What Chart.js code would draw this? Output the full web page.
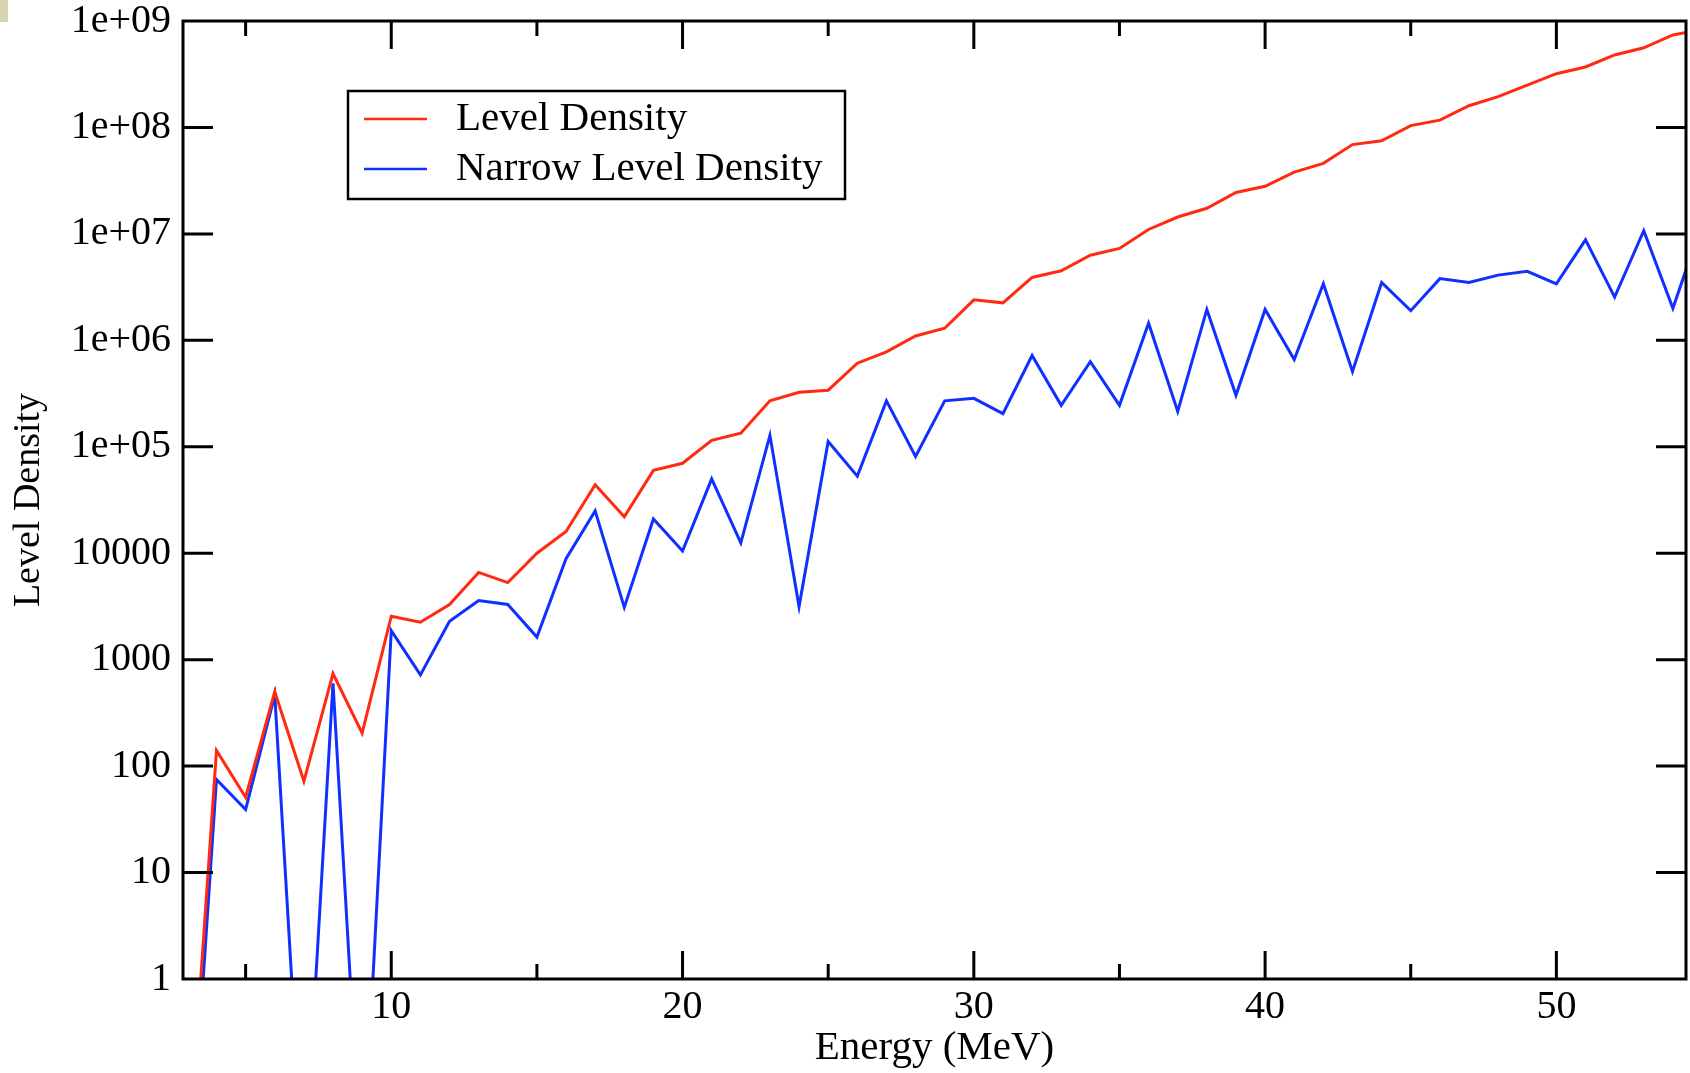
<!DOCTYPE html>
<html>
<head>
<meta charset="utf-8">
<script src="https://cdn.jsdelivr.net/npm/chart.js@4.4.0/dist/chart.umd.min.js"></script>
<style>
    html, body { margin: 0; padding: 0; background: #fff; }
    #wrap { position: relative; width: 1690px; height: 1073px; }
    #mark { position: absolute; left: 0; top: 0; width: 8px; height: 22px; background: #d8d4b0; }
</style>
</head>
<body>
<div id="wrap">
    <canvas id="LevelDensityChart" width="1690" height="1073"></canvas>
    <div id="mark"></div>
</div>
<script>
// energy grid (MeV)
var energies = [3, 4, 5, 6, 7, 8, 9, 10, 11, 12, 13, 14, 15, 16, 17, 18, 19, 20, 21, 22, 23, 24, 25, 26, 27, 28, 29,
    30, 31, 32, 33, 34, 35, 36, 37, 38, 39, 40, 41, 42, 43, 44, 45, 46, 47, 48, 49, 50, 51, 52, 53, 54, 55];

var levelDensity = [0.015, 140, 51, 500, 72, 740, 204, 2560, 2250, 3300, 6600, 5300, 10000, 16000, 44000, 22000, 60000,
    70000, 115000, 134000, 270000, 325000, 340000, 610000, 780000, 1.1e6, 1.3e6,
    2.4e6, 2.25e6, 3.9e6, 4.5e6, 6.3e6, 7.3e6, 1.1e7, 1.44e7, 1.74e7, 2.45e7, 2.8e7, 3.8e7, 4.6e7, 6.9e7, 7.5e7,
    1.04e8, 1.17e8, 1.6e8, 1.95e8, 2.5e8, 3.2e8, 3.7e8, 4.8e8, 5.6e8, 7.4e8, 8.3e8];

var narrowLevelDensity = [0.006, 75, 39, 465, 0.012, 600, 0.012, 1870, 720, 2300, 3600, 3300, 1630, 8900, 25000, 3100, 21000,
    10500, 50000, 12500, 128000, 3150, 112000, 53000, 270000, 81000, 270000,
    285000, 205000, 720000, 245000, 630000, 245000, 1.45e6, 215000, 1.95e6, 305000, 1.95e6, 660000, 3.4e6, 510000, 3.5e6,
    1.9e6, 3.8e6, 3.5e6, 4.1e6, 4.45e6, 3.4e6, 8.8e6, 2.55e6, 1.07e7, 2.0e6, 1.26e7];

var seriesNames = ['Level Density', 'Narrow Level Density'];
var seriesColors = ['#ff2a10', '#1030ff'];

var xMajorTicks = [10, 20, 30, 40, 50];
var xMinorTicks = [5, 15, 25, 35, 45];
var yTicks = [1, 10, 100, 1000, 10000, 1e5, 1e6, 1e7, 1e8, 1e9];
var yTickLabels = ['1', '10', '100', '1000', '10000', '1e+05', '1e+06', '1e+07', '1e+08', '1e+09'];

var serif = 'Liberation Serif, Times New Roman, serif';

function pontos(valores) {
    return energies.map(function (e, i) { return { x: e, y: valores[i] }; });
}

// frame with inward ticks on all four sides, plus the boxed legend
var frameAndLegend = {
    id: 'frameAndLegend',
    afterDatasetsDraw: function (chart) {
        var c = chart.ctx;
        var a = chart.chartArea;
        var sx = chart.scales.x;
        var sy = chart.scales.y;

        c.save();
        c.strokeStyle = '#000';
        c.lineWidth = 3;
        c.strokeRect(a.left, a.top, a.right - a.left, a.bottom - a.top);

        c.beginPath();
        xMajorTicks.forEach(function (v) {
            var px = sx.getPixelForValue(v);
            c.moveTo(px, a.bottom); c.lineTo(px, a.bottom - 28);
            c.moveTo(px, a.top); c.lineTo(px, a.top + 28);
        });
        xMinorTicks.forEach(function (v) {
            var px = sx.getPixelForValue(v);
            c.moveTo(px, a.bottom); c.lineTo(px, a.bottom - 15);
            c.moveTo(px, a.top); c.lineTo(px, a.top + 15);
        });
        yTicks.slice(1, -1).forEach(function (v) {
            var py = sy.getPixelForValue(v);
            c.moveTo(a.left, py); c.lineTo(a.left + 30, py);
            c.moveTo(a.right, py); c.lineTo(a.right - 30, py);
        });
        c.stroke();

        // legend
        c.lineWidth = 2.5;
        c.strokeRect(348, 91, 497, 108);
        c.font = '41px ' + serif;
        c.textBaseline = 'middle';
        c.fillStyle = '#000';
        var linhas = [119, 169];
        seriesNames.forEach(function (nome, i) {
            c.strokeStyle = seriesColors[i];
            c.lineWidth = 2.5;
            c.beginPath();
            c.moveTo(364, linhas[i]);
            c.lineTo(427, linhas[i]);
            c.stroke();
            c.fillText(nome, 456, linhas[i]);
        });
        c.restore();
    }
};

var ctx = document.getElementById('LevelDensityChart').getContext('2d');

var grafico = new Chart(ctx, {
    type: 'line',
    data: {
        datasets: [
            {
                label: seriesNames[0],
                data: pontos(levelDensity),
                borderColor: seriesColors[0],
                borderWidth: 3,
                pointRadius: 0,
                fill: false
            },
            {
                label: seriesNames[1],
                data: pontos(narrowLevelDensity),
                borderColor: seriesColors[1],
                borderWidth: 3,
                pointRadius: 0,
                fill: false
            }
        ]
    },
    options: {
        responsive: false,
        animation: false,
        layout: { padding: { left: 0, right: 4, top: 21, bottom: 0 } },
        plugins: {
            legend: { display: false },
            tooltip: { enabled: false }
        },
        scales: {
            x: {
                type: 'linear',
                min: 2.85,
                max: 54.45,
                grid: { display: false },
                border: { display: false },
                afterBuildTicks: function (s) {
                    s.ticks = xMajorTicks.map(function (v) { return { value: v }; });
                },
                afterFit: function (s) {
                    s.height = 94;
                    s.paddingLeft = 0;
                    s.paddingRight = 0;
                },
                ticks: {
                    font: { family: serif, size: 40 },
                    color: '#000',
                    padding: -4,
                    maxRotation: 0,
                    autoSkip: false
                },
                title: {
                    display: true,
                    text: 'Energy (MeV)',
                    font: { family: serif, size: 41 },
                    color: '#000',
                    padding: 0
                }
            },
            y: {
                type: 'logarithmic',
                min: 1,
                max: 1e9,
                grid: { display: false },
                border: { display: false },
                afterBuildTicks: function (s) {
                    s.ticks = yTicks.map(function (v) { return { value: v }; });
                },
                afterFit: function (s) {
                    s.width = 183;
                    s.paddingTop = 0;
                    s.paddingBottom = 0;
                },
                ticks: {
                    font: { family: serif, size: 40 },
                    color: '#000',
                    padding: 4,
                    autoSkip: false,
                    callback: function (value) {
                        var i = yTicks.indexOf(value);
                        return i >= 0 ? yTickLabels[i] : '';
                    }
                },
                title: {
                    display: true,
                    text: 'Level Density',
                    font: { family: serif, size: 38 },
                    color: '#000',
                    padding: { top: 6, bottom: 0 }
                }
            }
        }
    },
    plugins: [frameAndLegend]
});
</script>
</body>
</html>
